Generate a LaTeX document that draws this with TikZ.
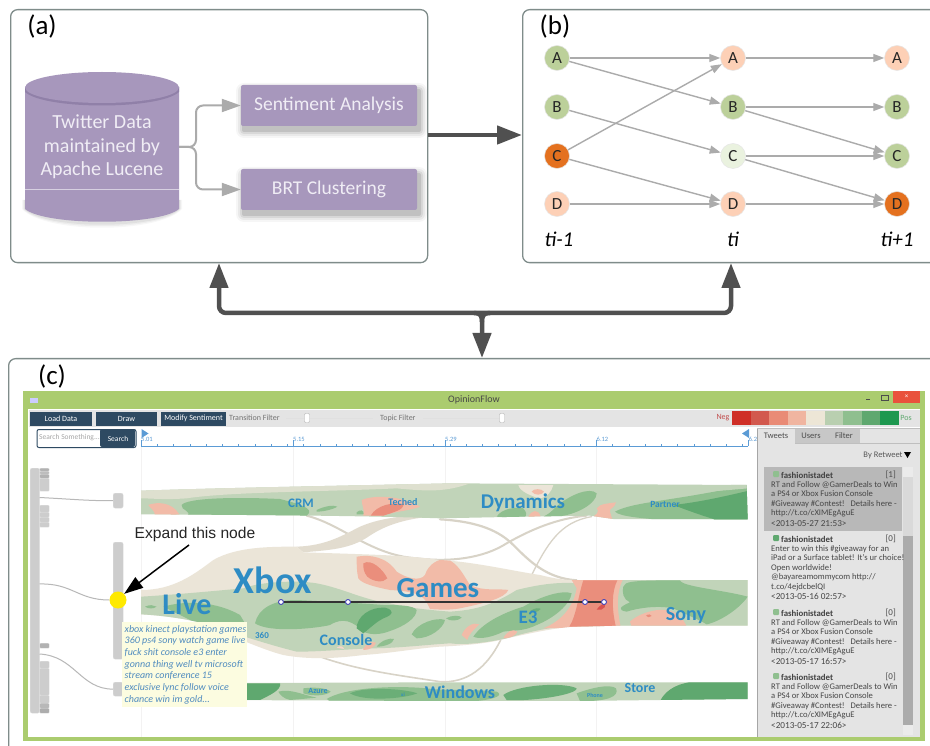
\documentclass[tikz,border=0pt]{standalone}
\usepackage{fontspec}
\setmainfont{Carlito}
\newfontfamily\arialfont{Liberation Sans}
\usetikzlibrary{arrows.meta,shapes.geometric}
\definecolor{panelline}{HTML}{7F8C8A}
\definecolor{purp}{HTML}{A797BC}
\definecolor{purpd}{HTML}{9080A8}
\definecolor{purptx}{HTML}{F0EDF5}
\definecolor{darkarrow}{HTML}{505050}
\definecolor{grayarrow}{HTML}{ABABAB}
\definecolor{ngreen}{HTML}{BCD09A}
\definecolor{npeach}{HTML}{FDD0B6}
\definecolor{norange}{HTML}{E4711F}
\definecolor{npale}{HTML}{EAF2DF}
\definecolor{wingreen}{HTML}{ABCC6F}
\definecolor{btn}{HTML}{2E4A62}
\definecolor{tbar}{HTML}{E4E4E4}
\definecolor{treeg}{HTML}{CDCDCD}
\definecolor{beige}{HTML}{EBE5D8}
\definecolor{gl}{HTML}{C1D4B9}
\definecolor{gm}{HTML}{8FBF8F}
\definecolor{gd}{HTML}{5FA86F}
\definecolor{sl}{HTML}{F2BBA8}
\definecolor{sm}{HTML}{EA8E7C}
\definecolor{sd}{HTML}{D9534F}
\definecolor{tblue}{HTML}{2E8CC4}
\definecolor{tick}{HTML}{5B9BD5}
\definecolor{tipbg}{HTML}{FCFCE0}
\definecolor{tiptx}{HTML}{4F8BBF}
\tikzset{
  fs/.style={font=\fontsize{#1}{#1}\selectfont},
  panel/.style={draw=panelline,line width=1.3pt,rounded corners=7pt,fill=white,inner sep=0pt,anchor=north west},
  panellabel/.style={fs=27,text=black,inner sep=0pt},
  procbox/.style={fill=purp,rounded corners=2pt,minimum width=176pt,minimum height=41pt,inner sep=0pt,text=purptx,fs=19.5},
  splitarrow/.style={draw=grayarrow,line width=2pt,rounded corners=7pt,-{Triangle[length=19pt,width=13pt]}},
  thickarrow/.style={draw=darkarrow,line width=4.5pt,-{Triangle[length=25pt,width=18pt]}},
  thickline/.style={draw=darkarrow,line width=4.5pt,rounded corners=7pt},
  sent/.style={circle,minimum size=25pt,inner sep=0pt,fs=17,text=black!85,draw=white!80!gray,line width=.5pt},
  edge/.style={draw=grayarrow,line width=1.4pt,-{Triangle[length=11pt,width=8pt]}},
  timelabel/.style={inner sep=0pt,font=\fontsize{21}{21}\selectfont\itshape},
  winbtn/.style={fill=btn,text=white,inner sep=0pt,fs=8},
  smalltxt/.style={fs=8,text=black!55,inner sep=0pt},
  ticktxt/.style={fs=6.5,text=tick,inner sep=0pt},
  topic/.style={text=tblue,inner sep=0pt,font=\fontsize{#1}{#1}\selectfont\bfseries},
  handle/.style={circle,fill=white,draw=blue!45!gray,line width=.9pt,minimum size=5pt,inner sep=0pt},
  treebar/.style={fill=treeg,draw=black!12,line width=.3pt,rounded corners=2pt,inner sep=0pt,anchor=north west},
  treeblock/.style={fill=#1,draw=black!10,line width=.3pt,rounded corners=.8pt,inner sep=0pt,anchor=north west,minimum width=9.5pt},
  treelink/.style={draw=black!28,line width=1pt},
  band/.style={draw=beige!92!black,line width=#1,line cap=round},
  zframe/.style={shift={(130,475)},x=.33333pt,y=-.33333pt},
}
\newcommand{\tweet}[7]{% id, top, bottom, fill, dot, count, body
  \fill[#4] (764,#2) rectangle (902,#3);
  \draw[white!90!black,line width=.5pt] (764,#3) -- (902,#3);
  \fill[#5,rounded corners=1pt] (773,#2+4) rectangle (779,#2+10);
  \node[anchor=west,inner sep=0pt,text=black!75,font=\fontsize{8.8}{8.8}\selectfont\bfseries] (tn#1) at (781,#2+8) {fashionistadet};
  \node[anchor=east,inner sep=0pt,text=black!70,fs=9] (tc#1) at (896,#2+8) {[#6]};
  \node[anchor=north west,inner sep=0pt,align=left,text=black!72,font=\fontsize{8.6}{9.5}\selectfont] (tb#1) at (771,#2+14) {#7};
}
\newcommand{\tdate}[1]{\\[1pt]{\fontsize{9.2}{9.5}\selectfont <#1>}}
\begin{document}
\begin{tikzpicture}[x=1pt,y=-1pt]
\useasboundingbox (0,0) rectangle (930,746);
\clip (0,0) rectangle (930,746);
\fill[white] (0,0) rectangle (930,746);

% ------------ panels
\node[panel,minimum width=417pt,minimum height=253pt] (pa) at (10,9) {};
\node[panel,minimum width=430pt,minimum height=253pt] (pb) at (522,9) {};
\node[panel,minimum width=960pt,minimum height=420pt] (pc) at (8,358) {};
\node[panellabel] (la) at (42,27) {(a)};
\node[panellabel] (lb) at (555,27) {(b)};
\node[panellabel] (lc) at (52,376) {(c)};

% ------------ panel a : cylinder
\foreach \k/\o in {6/.03,4/.04,2/.05}{
  \fill[black,opacity=\o] (25-\k/2,200) -- (25-\k/2,209) .. controls (45,228+\k) and (159,228+\k) .. (179+\k/2,209) -- (179+\k/2,200) -- cycle;
}
\fill[purp] (25,87) -- (25,209) .. controls (45,226) and (159,226) .. (179,209) -- (179,87) -- cycle;
\fill[purpd] (25,87) -- (25,92) .. controls (45,110) and (159,110) .. (179,92) -- (179,87) -- cycle;
\fill[purp] (102,87.5) ellipse [x radius=77pt,y radius=15.5pt];
\draw[white!55!purp,line width=.4pt] (25,189) -- (179,189);
\node[inner sep=0pt,text=purptx,align=center,minimum width=154pt,minimum height=118pt,font=\fontsize{20}{23.4}\selectfont] (db) at (102,147) {Twitter Data\\maintained by\\Apache Lucene};

% process boxes
\foreach \k/\o in {8/.035,6/.05,4/.07,2/.10}{
  \fill[black,opacity=\o,rounded corners=\k pt] (241+3-\k,85+6-\k) rectangle (417+2+\k,126+4+\k);
  \fill[black,opacity=\o,rounded corners=\k pt] (241+3-\k,169+6-\k) rectangle (417+2+\k,210+4+\k);
}
\node[procbox] (sa) at (329,105.5) {Sentiment Analysis};
\node[procbox] (brt) at (329,189.5) {BRT Clustering};
\draw[splitarrow] (db.east) -- (196,147) -- (196,105.5) -- (sa.west);
\draw[splitarrow] (db.east) -- (196,147) -- (196,189.5) -- (brt.west);

% main arrows
\coordinate (aout) at (pa.east |- 0,135);
\coordinate (bin) at (pb.west |- 0,135);
\draw[thickarrow] (aout) -- (bin);
\coordinate (aup) at (219,263);
\coordinate (bup) at (731,263);
\coordinate (cdown) at (482,358);
\draw[thickline,{Triangle[length=25pt,width=18pt]}-{Triangle[length=25pt,width=18pt]}] (aup) -- (219,313) -- (731,313) -- (bup);
\draw[thickarrow] (474,313) .. controls (480,313) and (482,315) .. (482,322) -- (cdown);
\draw[draw=darkarrow,line width=4.5pt] (490,313) .. controls (484,313) and (482,315) .. (482,322);

% ------------ panel b
\foreach \n/\y/\cc/\cd/\ce in {A/58/ngreen/npeach/npeach,B/107/ngreen/ngreen/ngreen,C/156/norange/npale/ngreen,D/204/npeach/npeach/norange}{
  \node[sent,fill=\cc] (\n0) at (557,\y) {\n};
  \node[sent,fill=\cd] (\n1) at (733,\y) {\n};
  \node[sent,fill=\ce] (\n2) at (897,\y) {\n};
}
\draw[edge] (A0) -- (A1);
\draw[edge] (A0) -- (B1);
\draw[edge] (B0) -- (C1);
\draw[edge] (C0) -- (A1);
\draw[edge] (C0) -- (D1);
\draw[edge] (D0) -- (D1);
\draw[edge] (A1) -- (A2);
\draw[edge] (B1) -- (B2);
\draw[edge] (B1) -- (C2);
\draw[edge] (C1) -- (C2);
\draw[edge] (C1) -- (D2);
\draw[edge] (D1) -- (D2);
\node[timelabel] (t0) at (559,239) {ti-1};
\node[timelabel] (t1) at (733,239) {ti};
\node[timelabel] (t2) at (897,239) {ti+1};

% ------------ panel c : window
\fill[wingreen] (23,391) rectangle (925,741);
\fill[white] (28,409) rectangle (920,737);
\fill[tbar] (29,410) rectangle (920,427);
\node[fs=10,text=black!72,inner sep=0pt] (title) at (474,400) {OpinionFlow};
\fill[white!80!blue] (30,398) rectangle (38,403);
\fill[red!60!brown!85!white] (893,391) rectangle (920,403);
\node[fs=7,text=white,inner sep=0pt] (closex) at (906.5,397) {×};
\draw[black!70,line width=1pt] (866,399) -- (870,399);
\draw[black!70,line width=.8pt] (881,395) rectangle (888,400);
\node[winbtn,minimum width=62pt,minimum height=14pt] (bload) at (61,418.5) {Load Data};
\node[winbtn,minimum width=61pt,minimum height=14pt] (bdraw) at (126.5,418.5) {Draw};
\node[winbtn,minimum width=65pt,minimum height=14pt] (bmod) at (193.5,418.5) {Modify Sentiment};
\node[smalltxt,anchor=west] (ftrans) at (229,418) {Transition Filter};
\node[smalltxt,anchor=west] (ftopic) at (380,418) {Topic Filter};
\draw[black!12,line width=1pt] (286,418) -- (373,418);
\draw[black!12,line width=1pt] (423,418) -- (500,418);
\node[draw=black!30,fill=white,minimum width=5pt,minimum height=9pt,inner sep=0pt,rounded corners=1pt] (th1) at (307,418) {};
\node[draw=black!30,fill=white,minimum width=5pt,minimum height=9pt,inner sep=0pt,rounded corners=1pt] (th2) at (502,418) {};
\node[fs=8,text=red!65!black!70!white,inner sep=0pt] (neg) at (723,418) {Neg};
\node[fs=8,text=gd,inner sep=0pt] (pos) at (906,418) {Pos};
\foreach \i/\c in {0/CF2F27,1/D2594E,2/E98B76,3/F0B5A0,4/EDE6D6,5/B9CFB0,6/8FBF8F,7/5FA86F,8/1E9850}{
  \definecolor{tmpc}{HTML}{\c}
  \fill[tmpc] (732+\i*18.5,411) rectangle (732+\i*18.5+18.5,425);
}
% search
\node[draw=btn,line width=1pt,rounded corners=2pt,fill=white,minimum width=99pt,minimum height=18pt,inner sep=0pt,anchor=north west] (sbox) at (36.5,429) {};
\fill[btn,rounded corners=2pt] (100,429) rectangle (135,447);
\node[fs=7.5,text=black!35,anchor=west,inner sep=0pt] (stext) at (39,438) {Search Something...};
\node[fs=7.5,text=white,inner sep=0pt] (sgo) at (118,438.5) {Search};

% timeline
\foreach \x in {141,293,445,596}{ \draw[red!5!black!5,line width=.6pt] (\x,447) -- (\x,737); }
\draw[tick,line width=.8pt] (141,446) -- (748,446);
\foreach \i in {0,...,37}{ \draw[tick,line width=.5pt] (141+\i*16.26,444) -- (141+\i*16.26,446); }
\foreach \x in {141,293,445,596,748}{ \draw[tick,line width=.6pt] (\x,440) -- (\x,446); }
\fill[tick] (141.5,429) -- (148.5,433.5) -- (141.5,438) -- cycle;
\fill[tick] (749,429) -- (742,433.5) -- (749,438) -- cycle;
\node[ticktxt] (d1) at (147,439.5) {5.01};
\node[ticktxt] (d2) at (299,439.5) {5.15};
\node[ticktxt] (d3) at (451,439.5) {5.29};
\node[ticktxt] (d4) at (602.5,439.5) {6.12};
\node[ticktxt] (d5) at (753,439.5) {6.2};

% ------------ streams (coordinates: zoom frame, 3 units per pixel, origin 130,475)
\begin{scope}[zframe]
% thin beige bands
\draw[band=2pt] (530,122) .. controls (640,150) and (720,240) .. (860,250) .. controls (960,262) and (1060,250) .. (1130,205) .. controls (1200,165) and (1280,130) .. (1370,122);
\draw[band=2.2pt] (930,133) .. controls (1050,140) and (1110,170) .. (1150,210) .. controls (1200,260) and (1250,310) .. (1340,316);
\draw[band=1.3pt] (1205,300) .. controls (1250,210) and (1290,140) .. (1385,125);
\draw[band=1.6pt] (570,545) .. controls (680,585) and (800,600) .. (930,620) .. controls (1010,625) and (1070,580) .. (1112,495);
\fill[beige!96!black] (500,215) .. controls (590,212) and (640,180) .. (690,155) .. controls (760,125) and (840,120) .. (950,118) -- (950,122) .. controls (860,125) and (780,140) .. (715,185) .. controls (660,222) and (600,225) .. (520,232) -- cycle;

% stream 1
\begin{scope}
\clip (33,47) .. controls (300,38) and (600,33) .. (960,25) -- (1850,30) -- (1853,133) -- (1450,132) -- (1380,122) -- (1180,125) -- (930,130) .. controls (700,122) and (400,120) .. (33,118) -- cycle;
\fill[gl] (30,20) rectangle (1860,140);
\fill[beige!70!gl] (33,47) .. controls (200,40) and (500,35) .. (930,25) -- (1020,25) .. controls (950,50) and (900,50) .. (800,40) .. controls (600,50) and (300,50) .. (170,70) .. controls (100,75) and (70,70) .. (33,70) -- cycle;
\fill[gm] (155,90) .. controls (170,70) and (300,65) .. (450,72) .. controls (500,85) and (560,100) .. (530,122) -- (170,122) .. controls (190,110) and (150,105) .. (155,90) -- cycle;
\fill[gm] (560,105) .. controls (580,95) and (610,88) .. (622,95) .. controls (610,103) and (580,110) .. (560,110) -- cycle;
\fill[gm] (680,112) .. controls (690,102) and (702,105) .. (702,118) -- (680,118) -- cycle;
\fill[sl] (55,90) .. controls (80,80) and (125,80) .. (148,118) -- (75,122) .. controls (75,105) and (60,100) .. (55,90) -- cycle;
\fill[sl] (695,75) .. controls (730,60) and (810,60) .. (870,95) .. controls (850,105) and (790,110) .. (760,122) -- (700,122) .. controls (705,105) and (695,90) .. (695,75) -- cycle;
\fill[sm] (722,122) .. controls (740,90) and (790,80) .. (822,88) .. controls (820,105) and (790,112) .. (760,122) -- cycle;
% Z2 part (+930)
\fill[gm] (1100,125) .. controls (1115,100) and (1160,95) .. (1180,100) .. controls (1200,125) and (1180,125) .. (1180,130) -- cycle;
\fill[gm] (1285,90) .. controls (1320,60) and (1380,35) .. (1400,55) .. controls (1400,85) and (1340,120) .. (1280,125) -- (1240,125) .. controls (1270,110) and (1270,100) .. (1285,90) -- cycle;
\fill[beige] (1165,30) -- (1270,30) .. controls (1265,50) and (1250,70) .. (1225,70) .. controls (1200,60) and (1170,50) .. (1165,30) -- cycle;
\fill[sl] (1205,50) .. controls (1210,40) and (1235,40) .. (1242,50) .. controls (1235,62) and (1215,62) .. (1205,50) -- cycle;
\fill[sl] (1195,125) .. controls (1205,105) and (1225,100) .. (1232,125) -- cycle;
\fill[gm] (1455,110) .. controls (1510,80) and (1620,80) .. (1853,30) -- (1853,135) -- (1600,135) .. controls (1540,130) and (1470,125) .. (1455,110) -- cycle;
\fill[gl] (1565,60) .. controls (1620,40) and (1780,30) .. (1853,28) -- (1853,40) .. controls (1750,50) and (1650,55) .. (1565,60) -- cycle;
\fill[gd] (1630,90) .. controls (1720,80) and (1800,60) .. (1853,48) -- (1853,135) -- (1760,135) .. controls (1710,120) and (1670,105) .. (1630,90) -- cycle;
\fill[sl] (1400,100) .. controls (1410,85) and (1440,85) .. (1458,82) .. controls (1455,100) and (1435,100) .. (1440,110) -- (1447,134) -- (1380,130) .. controls (1400,120) and (1410,110) .. (1400,100) -- cycle;
\end{scope}

% stream 2
\begin{scope}
\clip (33,345) .. controls (130,345) and (190,300) .. (250,255) .. controls (320,215) and (420,215) .. (500,215) -- (520,232) .. controls (700,238) and (830,240) .. (930,255) .. controls (1030,260) and (1160,290) .. (1230,300) .. controls (1270,310) and (1300,315) .. (1330,315) -- (1853,315) -- (1853,452) -- (1470,452) -- (1330,455) .. controls (1260,460) and (1180,480) .. (1130,490) .. controls (1080,505) and (1000,512) .. (930,515) .. controls (860,520) and (780,535) .. (700,540) .. controls (620,550) and (540,555) .. (460,540) .. controls (400,525) and (300,480) .. (200,440) .. controls (130,425) and (70,420) .. (33,418) -- cycle;
\fill[beige] (30,200) rectangle (1860,560);
% light green body
\fill[gl] (33,365) .. controls (120,360) and (230,350) .. (340,340) .. controls (390,320) and (500,315) .. (560,325) .. controls (640,340) and (700,375) .. (780,385) .. controls (840,400) and (900,405) .. (960,410) .. controls (1030,405) and (1080,395) .. (1160,345) .. controls (1220,330) and (1280,320) .. (1345,325) -- (1340,430) -- (1300,455) .. controls (1240,460) and (1180,475) .. (1130,490) .. controls (1060,505) and (1000,510) .. (960,505) .. controls (880,510) and (800,520) .. (720,520) .. controls (620,525) and (560,530) .. (500,530) .. controls (400,505) and (300,470) .. (200,440) .. controls (130,425) and (70,420) .. (33,418) -- cycle;
\fill[gl] (1340,310) rectangle (1860,455);
% mid greens, left
\fill[gm] (45,395) .. controls (60,388) and (70,390) .. (80,395) .. controls (70,402) and (55,402) .. (45,395) -- cycle;
\fill[gm] (100,395) .. controls (170,375) and (260,380) .. (330,420) -- (345,445) -- (200,445) .. controls (160,425) and (130,410) .. (100,395) -- cycle;
\fill[gm] (375,445) .. controls (385,400) and (430,375) .. (500,375) .. controls (600,380) and (700,385) .. (760,390) .. controls (800,390) and (850,390) .. (860,405) .. controls (860,430) and (820,455) .. (780,468) .. controls (750,480) and (720,480) .. (700,470) .. controls (670,440) and (640,425) .. (600,450) .. controls (560,460) and (420,475) .. (375,445) -- cycle;
\fill[gd] (680,460) .. controls (680,425) and (720,395) .. (765,398) .. controls (795,405) and (790,420) .. (760,430) .. controls (740,440) and (725,455) .. (700,475) -- cycle;
\fill[gm] (845,478) .. controls (860,445) and (920,425) .. (945,435) .. controls (940,460) and (900,490) .. (860,490) -- cycle;
\fill[gm] (740,515) .. controls (755,495) and (780,488) .. (792,492) .. controls (790,505) and (765,515) .. (740,515) -- cycle;
\fill[sl] (435,548) .. controls (440,538) and (455,538) .. (462,548) -- cycle;
\fill[white!40!sl] (620,518) .. controls (630,510) and (642,515) .. (642,522) -- cycle;
\fill[sl] (700,520) .. controls (710,505) and (725,497) .. (738,503) .. controls (735,515) and (720,525) .. (700,525) -- cycle;
\fill[gm] (948,430) .. controls (965,420) and (990,420) .. (995,428) .. controls (985,438) and (960,440) .. (948,430) -- cycle;
% games salmon
\fill[sl] (680,245) .. controls (720,238) and (770,245) .. (800,290) .. controls (830,310) and (870,320) .. (885,300) .. controls (895,265) and (930,250) .. (950,252) .. controls (985,265) and (1000,300) .. (1020,330) .. controls (1060,350) and (1110,340) .. (1135,345) .. controls (1125,370) and (1060,385) .. (1000,398) .. controls (970,405) and (940,405) .. (900,402) .. controls (885,370) and (880,350) .. (780,345) .. controls (730,335) and (695,325) .. (685,310) .. controls (680,290) and (680,270) .. (680,245) -- cycle;
\fill[sm] (700,265) .. controls (725,250) and (760,285) .. (772,310) .. controls (760,325) and (730,320) .. (712,305) .. controls (700,290) and (700,280) .. (700,265) -- cycle;
% E3 area
\fill[sl] (995,480) .. controls (1005,455) and (1030,440) .. (1048,448) .. controls (1030,465) and (1015,480) .. (1012,495) -- cycle;
\fill[gm] (1030,485) .. controls (1060,440) and (1130,410) .. (1180,395) .. controls (1240,360) and (1300,345) .. (1325,355) .. controls (1320,390) and (1270,430) .. (1220,450) .. controls (1180,470) and (1150,465) .. (1120,470) .. controls (1090,485) and (1050,495) .. (1030,485) -- cycle;
\fill[gd!70!gm] (1200,408) .. controls (1215,398) and (1228,398) .. (1232,402) .. controls (1222,412) and (1210,415) .. (1200,408) -- cycle;
\fill[sl] (1120,490) .. controls (1130,468) and (1150,460) .. (1162,470) .. controls (1158,482) and (1140,490) .. (1120,490) -- cycle;
% central red
\fill[sl] (1325,315) -- (1478,315) .. controls (1460,350) and (1460,400) .. (1472,455) -- (1240,460) .. controls (1290,440) and (1330,400) .. (1340,340) -- cycle;
\fill[sm] (1360,316) -- (1462,316) .. controls (1445,350) and (1445,400) .. (1457,452) -- (1318,455) .. controls (1340,420) and (1345,360) .. (1360,316) -- cycle;
\fill[sd] (1400,404) .. controls (1408,392) and (1418,385) .. (1426,387) -- (1424,397) -- (1414,404) -- cycle;
% right part
\fill[gm] (1480,335) .. controls (1485,320) and (1500,316) .. (1650,316) .. controls (1655,335) and (1780,345) .. (1853,365) .. controls (1830,400) and (1770,440) .. (1730,448) .. controls (1700,430) and (1670,420) .. (1630,400) .. controls (1580,390) and (1520,400) .. (1490,410) .. controls (1460,405) and (1470,395) .. (1500,382) .. controls (1480,375) and (1475,350) .. (1480,335) -- cycle;
\fill[sl] (1500,440) .. controls (1520,420) and (1570,400) .. (1610,405) .. controls (1640,410) and (1660,430) .. (1670,455) -- (1505,455) -- cycle;
\fill[sm] (1548,422) .. controls (1555,416) and (1565,418) .. (1565,423) .. controls (1558,428) and (1552,428) .. (1548,422) -- cycle;
\end{scope}

% stream 3
\begin{scope}
\clip (33,625) -- (960,622) -- (1853,622) -- (1853,672) -- (1330,678) -- (930,678) -- (33,674) -- cycle;
\fill[gl] (30,615) rectangle (1860,680);
\fill[gd] (300,625) -- (450,625) .. controls (455,645) and (420,660) .. (390,675) -- (300,675) -- cycle;
\fill[gm] (445,650) .. controls (480,640) and (520,660) .. (560,668) -- (480,675) .. controls (460,670) and (450,660) .. (445,650) -- cycle;
\fill[gm] (520,640) .. controls (560,635) and (590,640) .. (602,650) .. controls (590,662) and (550,665) .. (520,655) -- cycle;
\fill[gm] (590,672) .. controls (640,640) and (780,630) .. (890,640) .. controls (960,650) and (1010,640) .. (1100,650) .. controls (1120,660) and (1100,672) .. (1040,678) -- (600,678) -- cycle;
\fill[gd!75!gm] (660,655) .. controls (700,635) and (820,640) .. (862,655) .. controls (820,672) and (700,680) .. (660,655) -- cycle;
\fill[gd!75!gm] (1120,660) .. controls (1160,630) and (1300,620) .. (1340,640) .. controls (1340,660) and (1200,680) .. (1130,675) -- cycle;
\fill[gm] (1340,655) .. controls (1380,640) and (1440,625) .. (1458,640) .. controls (1470,665) and (1430,680) .. (1350,678) -- cycle;
\fill[gd] (1590,678) .. controls (1610,640) and (1650,622) .. (1700,620) -- (1860,620) -- (1860,678) -- cycle;
\end{scope}
\end{scope}

% topics
\node[topic=38] (xbox) at (273,580) {Xbox};
\node[topic=30] (live) at (187,604) {Live};
\node[topic=29] (games) at (438,588) {Games};
\node[topic=21] (dyn) at (523,503) {Dynamics};
\node[topic=20] (sony) at (686,616) {Sony};
\node[topic=13] (crm) at (301,503) {CRM};
\node[topic=10] (ted) at (403,502) {Teched};
\node[topic=9.5] (part) at (665,504) {Partner};
\node[topic=9] (n360) at (262,635) {360};
\node[topic=16] (cons) at (346,640) {Console};
\node[topic=19] (e3) at (528,617) {E3};
\node[topic=8] (azu) at (318,691) {Azure};
\node[topic=5] (xi) at (403,695) {xi};
\node[topic=18] (win) at (460,692) {Windows};
\node[topic=6] (pho) at (595,695) {Phone};
\node[topic=14] (sto) at (640,688) {Store};

% trend line
\node[handle] (h1) at (281,602) {};
\node[handle] (h2) at (348,602) {};
\node[handle] (h3) at (585,602) {};
\node[handle] (h4) at (604,602) {};
\draw[black!80,line width=1.3pt] (h1) -- (h2) -- (h3) -- (h4);

% ------------ hierarchy
\foreach \a/\b/\n/\c in {468/471/a/black!30,471/474/b/black!26,474/478/c/black!30,478/491/d/treeg,505/512/e/treeg,512/517/f/treeg,517/522/g/treeg,522/527/h/treeg,643/648/i/black!30,661/668/j/treeg,668/695/k/treeg,695/703/l/treeg,703/708/m/black!28,708/713/o/black!32}{
  \node[treeblock=\c,minimum height=\b pt-\a pt] (tb\n) at (39.5,\a) {};
}
\node[treebar,minimum width=9.5pt,minimum height=245pt] (tree) at (30,468) {};
\node[treebar,minimum width=10pt,minimum height=15pt] (n1) at (113,493) {};
\node[treebar,minimum width=10pt,minimum height=117pt] (n2) at (113,542) {};
\node[treebar,minimum width=10pt,minimum height=14pt] (n3) at (113,682) {};
\coordinate (l1) at (39.5,497.5);
\coordinate (l2) at (39.5,584);
\coordinate (l3) at (39.5,654);
\draw[treelink] (l1) .. controls (70,499) and (90,501) .. (n1.west);
\node[circle,fill=yellow!92!orange,minimum size=17pt,inner sep=0pt] (ynode) at (118,600) {};
\draw[treelink] (l2) .. controls (72,583) and (78,600) .. (ynode.west);
\draw[treelink] (l3) .. controls (75,656) and (80,689) .. (n3.west);

% tooltip
\node[anchor=north west,fill=tipbg,inner sep=0pt,minimum width=125pt,minimum height=85pt] (tipb) at (122,622) {};
\node[anchor=north west,inner sep=0pt,align=left,text=tiptx,font=\fontsize{10}{11.65}\selectfont\itshape] (tip) at (124.5,625) {xbox kinect playstation games\\360 ps4 sony watch game live\\fuck shit console e3 enter\\gonna thing well tv microsoft\\stream conference 15\\exclusive lync follow voice\\chance win im gold...};

% annotation
\node[inner sep=0pt,font=\fontsize{15.6}{15.6}\selectfont\arialfont,text=black!85] (exp) at (195,534) {Expand this node};
\coordinate (expstart) at (189,545);
\draw[black,line width=1.5pt,-{Triangle[length=19pt,width=13pt]}] (expstart) -- (ynode.north east);

% ------------ tweet panel
\fill[tbar] (757,428) rectangle (920,737);
\draw[black!35,line width=.8pt] (757,428) -- (757,737);
\draw[black!25,line width=.6pt] (757,428) -- (920,428);
\draw[black!25,line width=.6pt] (795,443) -- (920,443);
\fill[black!22] (795,429) rectangle (827,443);
\fill[black!22] (827,429) rectangle (860,443);
\node[fs=8.5,text=black!70,inner sep=0pt] (tab1) at (776,436) {Tweets};
\node[fs=8.5,text=black!70,inner sep=0pt] (tab2) at (811,436) {Users};
\node[fs=8.5,text=black!70,inner sep=0pt] (tab3) at (844,436) {Filter};
\node[fs=8.5,text=black!65,inner sep=0pt] (sortby) at (883,455) {By Retweet};
\fill[black] (904,452) -- (911,452) -- (907.5,458) -- cycle;
\fill[black!15] (903,467) rectangle (913,735);
\fill[black!33] (903,536) rectangle (913,725);
\fill[white!92!black] (903,467) rectangle (913,477);
\fill[white!92!black] (903,725) rectangle (913,735);
\tweet{1}{467}{531}{black!28}{gm}{1}{RT and Follow @GamerDeals to Win\\a PS4 or Xbox Fusion Console\\\#Giveaway \#Contest!\ \ \ Details here -\\http://t.co/cXIMEgAguE\tdate{2013-05-27 21:53}}
\tweet{2}{531}{605}{tbar}{gd}{0}{Enter to win this \#giveaway for an\\iPad or a Surface tablet! It's ur choice!\\Open worldwide!\\@bayareamommycom http://\\t.co/4ejdcbelQI\tdate{2013-05-16 02:57}}
\tweet{3}{605}{669}{tbar}{gm}{0}{RT and Follow @GamerDeals to Win\\a PS4 or Xbox Fusion Console\\\#Giveaway \#Contest!\ \ \ Details here -\\http://t.co/cXIMEgAguE\tdate{2013-05-17 16:57}}
\tweet{4}{669}{734}{tbar}{gm}{0}{RT and Follow @GamerDeals to Win\\a PS4 or Xbox Fusion Console\\\#Giveaway \#Contest!\ \ \ Details here -\\http://t.co/cXIMEgAguE\tdate{2013-05-17 22:06}}
\end{tikzpicture}
\end{document}
